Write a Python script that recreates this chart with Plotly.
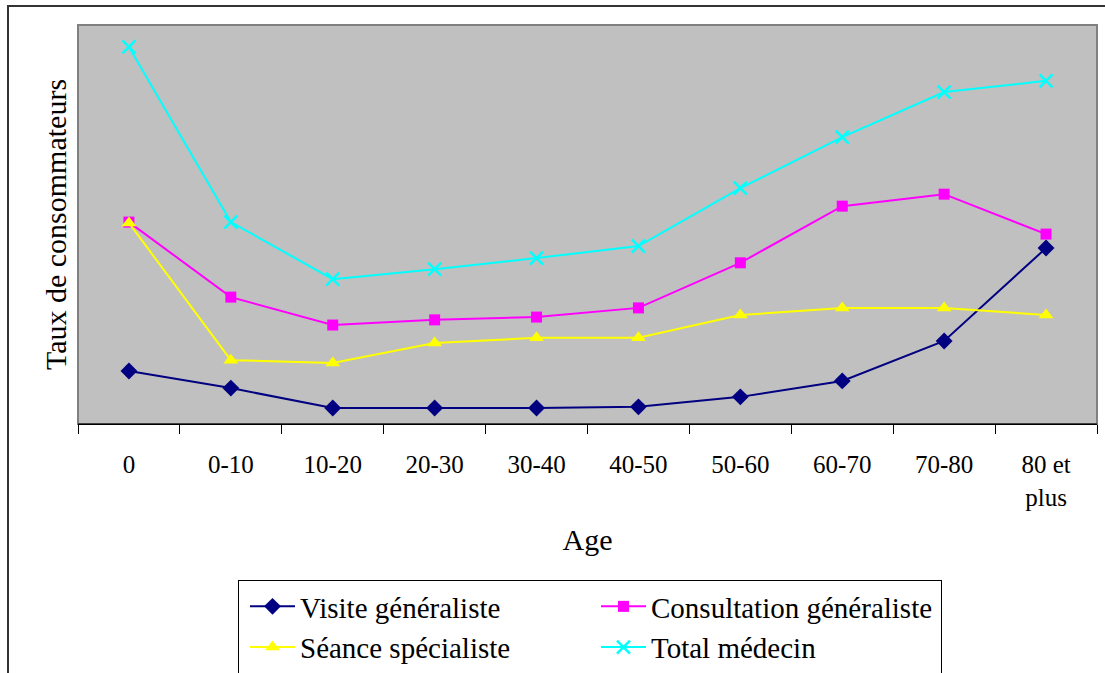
import plotly.graph_objects as go

categories = ["0", "0-10", "10-20", "20-30", "30-40", "40-50", "50-60", "60-70", "70-80", "80 et<br>plus"]

visite_generaliste = [13.3, 9.0, 4.0, 4.0, 4.0, 4.3, 6.8, 10.8, 20.8, 44.1]
consultation_generaliste = [50.6, 31.8, 24.8, 26.1, 26.8, 29.1, 40.4, 54.6, 57.6, 47.6]
seance_specialiste = [50.4, 16.0, 15.3, 20.3, 21.6, 21.6, 27.3, 29.1, 29.1, 27.3]
total_medecin = [94.5, 50.6, 36.3, 38.8, 41.6, 44.6, 59.1, 71.9, 83.2, 86.0]

FONT = "Liberation Serif, Times New Roman, serif"

fig = go.Figure()
fig.add_trace(go.Scatter(x=categories, y=visite_generaliste, name="Visite généraliste",
                         mode="lines+markers", line=dict(color="#000080", width=2),
                         marker=dict(symbol="diamond", size=13, color="#000080")))
fig.add_trace(go.Scatter(x=categories, y=consultation_generaliste, name="Consultation généraliste",
                         mode="lines+markers", line=dict(color="#FF00FF", width=2),
                         marker=dict(symbol="square", size=11, color="#FF00FF")))
fig.add_trace(go.Scatter(x=categories, y=seance_specialiste, name="Séance spécialiste",
                         mode="lines+markers", line=dict(color="#FFFF00", width=2),
                         marker=dict(symbol="triangle-up", size=13, color="#FFFF00")))
fig.add_trace(go.Scatter(x=categories, y=total_medecin, name="Total médecin",
                         mode="lines+markers", line=dict(color="#00FFFF", width=2),
                         marker=dict(symbol="x-thin-open", size=13, color="#00FFFF",
                                     line=dict(color="#00FFFF", width=2.5))))

fig.update_layout(
    width=1105, height=673,
    margin=dict(l=78, r=8, t=25, b=249, autoexpand=False),
    paper_bgcolor="white",
    plot_bgcolor="#C0C0C0",
    font=dict(family=FONT, size=25, color="black"),
    showlegend=True,
    legend=dict(orientation="h", xref="container", yref="container",
                x=238 / 1105, y=1 - 580 / 673, xanchor="left", yanchor="top",
                entrywidth=285, itemwidth=45, indentation=6,
                bordercolor="black", borderwidth=1,
                font=dict(family=FONT, size=29), tracegroupgap=0),
    xaxis=dict(type="category", range=[-0.5, 9.5], showline=True, linecolor="black",
               linewidth=1, ticks="outside", tickson="boundaries", ticklen=9,
               tickcolor="black", showgrid=False, zeroline=False, automargin=False,
               ticklabelstandoff=18,
               tickfont=dict(family=FONT, size=25),
               title=dict(text="Age", font=dict(family=FONT, size=30), standoff=19)),
    yaxis=dict(range=[0, 100], showticklabels=False, ticks="", showgrid=False,
               zeroline=False, showline=False, automargin=False,
               title=dict(text="Taux de consommateurs", font=dict(family=FONT, size=30), standoff=1)),
    shapes=[
        dict(type="rect", xref="paper", yref="paper", x0=0, x1=1, y0=0, y1=1,
             line=dict(color="#808080", width=2), layer="below"),
        dict(type="line", xref="paper", yref="paper", x0=0, x1=1, y0=0, y1=0,
             line=dict(color="black", width=1)),
        dict(type="rect", xref="paper", yref="paper",
             x0=(8 - 78) / 1019, x1=(1110 - 78) / 1019,
             y0=(424 - 680) / 399, y1=(424 - 6) / 399,
             line=dict(color="#333333", width=2)),
    ],
)

fig.write_html("out.html", config={"displayModeBar": False},
               post_script="document.body.style.margin='0px';")
